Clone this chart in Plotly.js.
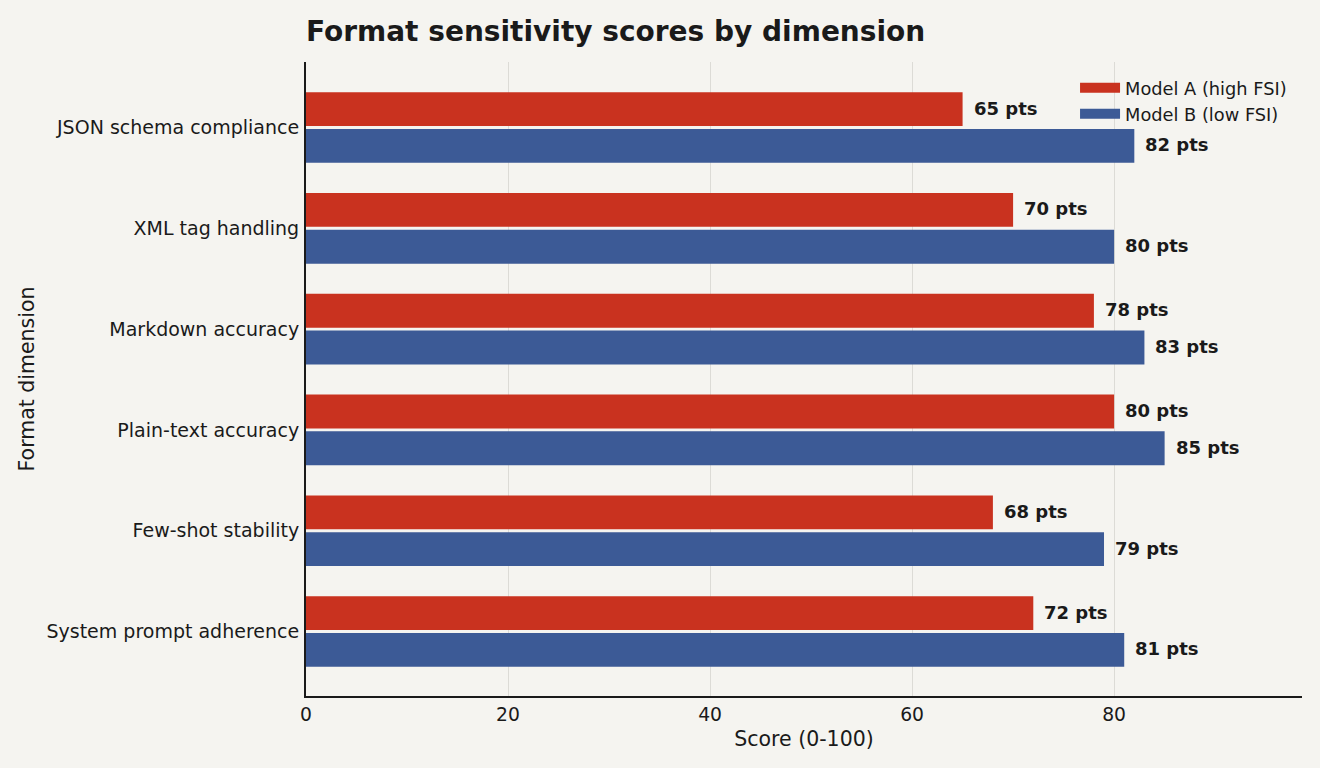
<!DOCTYPE html>
<html>
<head>
<meta charset="utf-8">
<script src="https://cdn.plot.ly/plotly-3.0.1.min.js"></script>
<style>html,body{margin:0;padding:0;background:#f5f4f0;}#chart{width:1320px;height:768px;}</style>
</head>
<body>
<div id="chart"></div>
<script>
const categories = ["JSON schema compliance", "XML tag handling", "Markdown accuracy", "Plain-text accuracy", "Few-shot stability", "System prompt adherence"];
const modelA = [65, 70, 78, 80, 68, 72];
const modelB = [82, 80, 83, 85, 79, 81];
const seriesNames = ["Model A (high FSI)", "Model B (low FSI)"];
const seriesColors = ["#c9321f", "#3c5a96"];
const xTicks = [0, 20, 40, 60, 80];

const FONT = "DejaVu Sans, sans-serif";
const bargap = 0.27;
const off = (1 - bargap) / 4;

const traces = [modelA, modelB].map((vals, s) => ({
  type: "bar", orientation: "h", name: seriesNames[s], y: categories, x: vals,
  marker: {color: seriesColors[s]}, hoverinfo: "x+y", showlegend: false, legendgroup: "g" + s
}));
// legend entries drawn as thick line swatches
seriesNames.forEach((nm, s) => {
  traces.push({type: "scatter", mode: "lines", name: nm, x: [null], y: [null],
    line: {color: seriesColors[s], width: 13}, legendgroup: "g" + s, showlegend: true, hoverinfo: "skip"});
});

const annotations = [];
[modelA, modelB].forEach((vals, s) => {
  vals.forEach((v, i) => {
    annotations.push({x: v, y: i + (s === 0 ? -off : off), xref: "x", yref: "y",
      text: v + " pts", showarrow: false, xanchor: "left", yanchor: "middle", xshift: 9, yshift: 1,
      font: {family: FONT, size: 18, color: "#1a1a1a", weight: "bold"}});
  });
});

const layout = {
  width: 1320, height: 768,
  paper_bgcolor: "#f5f4f0", plot_bgcolor: "#f5f4f0",
  margin: {l: 306, r: 18, t: 62, b: 72},
  barmode: "group", bargap: bargap, bargroupgap: 0.08,
  font: {family: FONT, color: "#1a1a1a"},
  title: {text: "<b>Format sensitivity scores by dimension</b>", x: 306/1320, xanchor: "left", xref: "container",
    y: 1 - 31/768, yanchor: "middle", yref: "container",
    font: {family: FONT, size: 28, color: "#1a1a1a"}},
  xaxis: {range: [0, 98.6], tickvals: xTicks, ticks: "", showgrid: true, gridcolor: "#dcdbd6", gridwidth: 1.3,
    zeroline: false, showline: true, linecolor: "#1a1a1a", linewidth: 2,
    tickfont: {family: FONT, size: 18.75, color: "#1a1a1a"}, ticklabelstandoff: 0,
    title: {text: "Score (0-100)", font: {family: FONT, size: 20.5, color: "#1a1a1a"}, standoff: 8}},
  yaxis: {categoryorder: "array", categoryarray: categories, range: [5.64, -0.65], ticks: "",
    showgrid: false, zeroline: false, showline: true, linecolor: "#1a1a1a", linewidth: 2,
    tickfont: {family: FONT, size: 19, color: "#1a1a1a"}, ticklabelstandoff: 1,
    title: {text: "Format dimension", font: {family: FONT, size: 20.5, color: "#1a1a1a"}, standoff: 6}},
  legend: {x: 0.99, xanchor: "right", y: 0.988, yanchor: "top", bgcolor: "rgba(0,0,0,0)",
    font: {family: FONT, size: 17.8, color: "#1a1a1a"}, traceorder: "normal", tracegroupgap: 0, itemwidth: 40},
  annotations: annotations,
  showlegend: true
};

Plotly.newPlot("chart", traces, layout, {displayModeBar: false, responsive: false});
</script>
</body>
</html>
